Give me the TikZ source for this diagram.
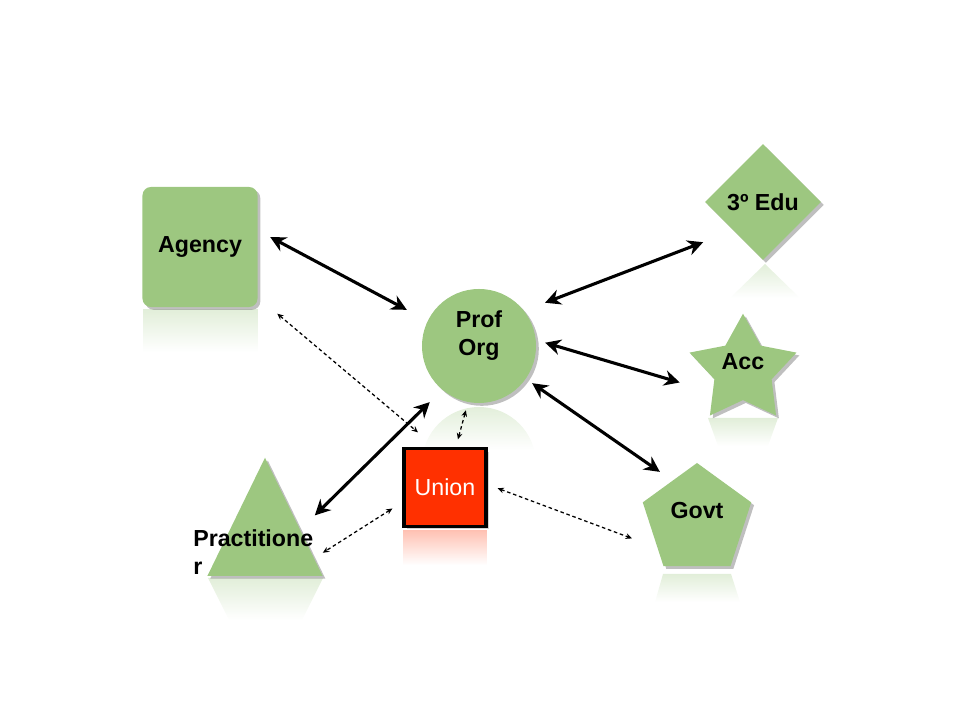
\documentclass[tikz,border=0pt]{standalone}
\usepackage{fontspec}
\setmainfont{Liberation Sans}
\usetikzlibrary{shapes.geometric,arrows.meta,shadows,fadings,calc}

\definecolor{leaf}{RGB}{157,199,128}
\definecolor{unionred}{RGB}{255,48,0}

\tikzset{
  blob/.style={fill=leaf,inner sep=0pt,
    drop shadow={shadow xshift=2pt,shadow yshift=-2pt,opacity=.5}},
  refl/.style={fill=#1,fill opacity=.3,path fading=south},
  link/.style={{Stealth[length=11pt,width=11pt]}-{Stealth[length=11pt,width=11pt]},line width=2.2pt},
  hint/.style={{Stealth[length=4.5pt,width=4pt]}-{Stealth[length=4.5pt,width=4pt]},
    line width=.9pt,dash pattern=on 2.5pt off 2pt}
}

\begin{document}
\begin{tikzpicture}[x=0.025cm,y=-0.025cm,font=\fontsize{16.5}{20}\selectfont\bfseries]
\useasboundingbox (0,0) rectangle (960,720);

% reflections
\fill[refl=leaf] (143,309) rectangle (258,352);
\begin{scope}
  \clip (479,464) circle (57);
  \fill[refl=leaf] (420,405) rectangle (540,450);
\end{scope}
\fill[refl=leaf] (765,264) -- (730,298) -- (800,298) -- cycle;
\fill[refl=leaf] (708,418) -- (778,418) -- (768,446) -- (718,446) -- cycle;
\fill[refl=leaf] (663,574) -- (731,574) -- (740,602) -- (655,602) -- cycle;
\fill[refl=leaf] (208,578) -- (323,578) -- (302,620) -- (229,620) -- cycle;
\fill[refl=unionred] (403,530) rectangle (487,565);

% shapes
\node[blob,rectangle,rounded corners=6pt,minimum width=2.875cm,minimum height=3cm] (agency) at (200,247) {Agency};
\node[blob,circle,minimum size=2.85cm,align=center,text depth=18pt] (prof) at (479,346) {Prof\\Org};
\node[blob,diamond,aspect=1,minimum size=2.9cm] (edu) at (763,202) {3º Edu};
\node[blob,star,star points=5,star point ratio=1.87,minimum size=2.8cm,text depth=12pt] (acc) at (743,370) {Acc};
\node[blob,regular polygon,regular polygon sides=5,minimum size=2.85cm,text depth=14pt] (govt) at (697,520) {Govt};
\node[blob,isosceles triangle,shape border rotate=90,isosceles triangle stretches,
  minimum width=2.875cm,minimum height=2.95cm,anchor=apex] (pract) at (265,457) {};
\node[align=left,anchor=west,inner sep=0pt] (practxt) at (193,552) {Practitione\\r};
\node[rectangle,fill=unionred,draw=black,line width=2.2pt,minimum width=2.05cm,minimum height=1.93cm,
  text=white,font=\fontsize{16.5}{20}\selectfont,
  drop shadow={shadow xshift=2pt,shadow yshift=-2pt,opacity=.35}] (union) at (445,487.5) {Union};

% main links
\draw[link,shorten <=10pt,shorten >=16.7pt] (agency.16) -- (prof.154);
\draw[link,shorten <=15.9pt,shorten >=23pt] (prof.38) -- (edu.224);
\draw[link,shorten <=6.8pt,shorten >=24.3pt] (prof.6) -- (acc.216);
\draw[link,shorten <=5.4pt,shorten >=10.8pt] (prof.-35) -- (govt.122);
\draw[link,shorten <=14.4pt,shorten >=12.4pt] ($(pract.apex)!0.61!(pract.right corner)$) -- (prof.230);

% union links
\draw[hint,shorten <=18.1pt,shorten >=16.5pt] (agency.-41) -- (union.103);
\draw[hint,shorten <=5.9pt,shorten >=5.9pt] (prof.259) -- (union.75);
\draw[hint,shorten <=8.4pt,shorten >=7.2pt] (union.199) -- ($(pract.apex)!0.85!(pract.right corner)$);
\draw[hint,shorten <=7.6pt,shorten >=19.2pt] (union.4) -- (govt.215);
\end{tikzpicture}
\end{document}
